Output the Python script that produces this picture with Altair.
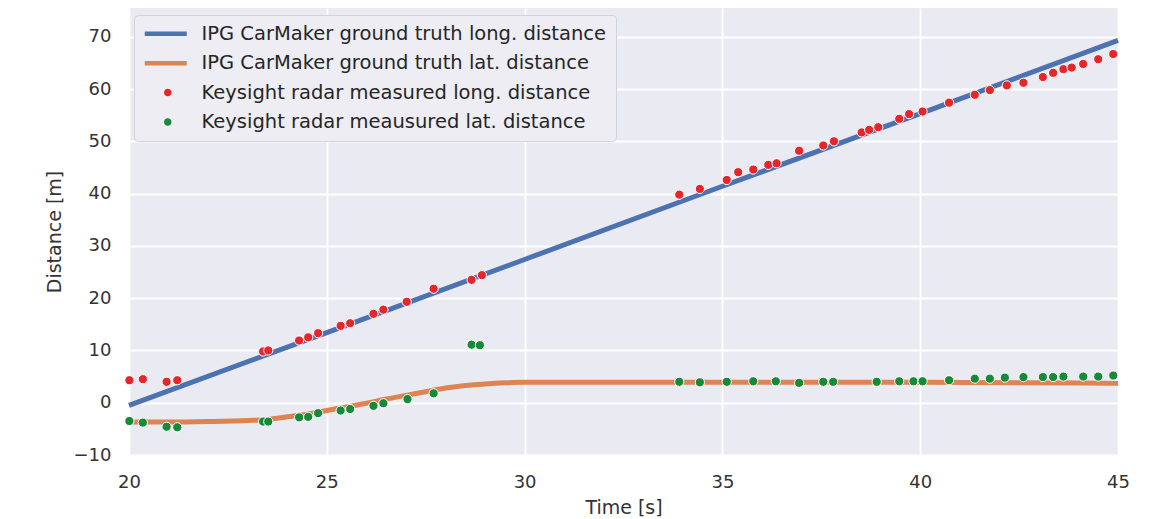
import altair as alt
import pandas as pd

# ---------------- data ----------------
series_names = [
    "IPG CarMaker ground truth long. distance",
    "IPG CarMaker ground truth lat. distance",
    "Keysight radar measured long. distance",
    "Keysight radar meausured lat. distance",
]
series_colors = ["#4C72B0", "#DD8452", "#E5262B", "#178A3A"]

# ground truth longitudinal distance
gt_long_time = [20.0, 25.0, 30.0, 35.0, 40.0, 45.0]
gt_long_dist = [-0.5, 13.4, 27.4, 41.4, 55.3, 69.3]

# ground truth lateral distance
gt_lat_time = [20.0, 21.0, 22.0, 23.0, 23.5, 24.0, 24.5, 25.0, 25.5, 26.0, 26.5,
               27.0, 27.5, 28.0, 28.5, 29.0, 29.5, 30.0, 31.0, 35.0, 40.0, 45.0]
gt_lat_dist = [-3.7, -3.7, -3.6, -3.4, -3.2, -2.7, -2.2, -1.5, -0.8, -0.1, 0.7,
               1.4, 2.1, 2.8, 3.3, 3.6, 3.8, 3.9, 3.9, 3.9, 3.9, 3.7]

# radar measured longitudinal distance
meas_long_time = [20.01, 20.35, 20.95, 21.22, 23.39, 23.52, 24.30, 24.53, 24.78,
                  25.35, 25.59, 26.18, 26.43, 27.02, 27.70, 28.66, 28.92,
                  33.91, 34.43, 35.11, 35.40, 35.78, 36.16, 36.37, 36.94, 37.55,
                  37.82, 38.52, 38.71, 38.94, 39.47, 39.72, 40.06, 40.73, 41.38,
                  41.76, 42.19, 42.61, 43.10, 43.36, 43.62, 43.83, 44.12, 44.50,
                  44.88]
meas_long_dist = [4.3, 4.5, 4.0, 4.3, 9.8, 10.0, 11.9, 12.5, 13.3,
                  14.7, 15.2, 17.0, 17.8, 19.3, 21.8, 23.5, 24.4,
                  39.8, 40.9, 42.6, 44.1, 44.6, 45.5, 45.8, 48.2, 49.2,
                  50.0, 51.7, 52.2, 52.7, 54.3, 55.2, 55.7, 57.4, 58.9,
                  59.8, 60.7, 61.2, 62.3, 63.1, 63.8, 64.1, 64.8, 65.7,
                  66.7]

# radar measured lateral distance
meas_lat_time = [20.01, 20.35, 20.95, 21.22, 23.39, 23.52, 24.30, 24.53, 24.78,
                 25.35, 25.59, 26.18, 26.43, 27.04, 27.70, 28.66, 28.87,
                 33.91, 34.43, 35.11, 35.78, 36.35, 36.94, 37.55, 37.80, 38.90,
                 39.47, 39.83, 40.06, 40.73, 41.38, 41.76, 42.14, 42.61, 43.10,
                 43.36, 43.62, 44.12, 44.50, 44.88]
meas_lat_dist = [-3.5, -3.8, -4.6, -4.7, -3.6, -3.6, -2.8, -2.7, -2.0,
                 -1.5, -1.2, -0.6, -0.1, 0.7, 1.8, 11.1, 11.0,
                 4.0, 3.9, 4.0, 4.1, 4.1, 3.8, 4.0, 4.0, 4.0,
                 4.1, 4.1, 4.1, 4.3, 4.6, 4.6, 4.8, 4.9, 4.9,
                 4.9, 5.0, 5.0, 5.0, 5.2]

x_ticks = [20, 25, 30, 35, 40, 45]
y_ticks = [-10, 0, 10, 20, 30, 40, 50, 60, 70]

# ---------------- tables ----------------
gt_long_df = pd.DataFrame({"t": gt_long_time, "d": gt_long_dist})
gt_lat_df = pd.DataFrame({"t": gt_lat_time, "d": gt_lat_dist})
meas_long_df = pd.DataFrame({"t": meas_long_time, "d": meas_long_dist,
                             "series": series_names[2]})
meas_lat_df = pd.DataFrame({"t": meas_lat_time, "d": meas_lat_dist,
                            "series": series_names[3]})
legend_df = pd.DataFrame({"series": series_names, "t": [20.0] * 4, "d": [0.0] * 4})

x_enc = alt.X("t:Q", title="Time [s]",
              scale=alt.Scale(domain=[20, 45], nice=False, zero=False),
              axis=alt.Axis(values=x_ticks, format="d", labelFlush=False))
y_enc = alt.Y("d:Q", title="Distance [m]",
              scale=alt.Scale(domain=[-10, 75.5], nice=False, zero=False),
              axis=alt.Axis(values=y_ticks, format="d", labelFlush=False))

color_scale = alt.Scale(domain=series_names, range=series_colors)

line_path = "M-1.6,-0.45L6.8,-0.45L6.8,0.45L-1.6,0.45Z"
dot_path = "M2.25,0A0.75,0.75 0 1,0 3.75,0A0.75,0.75 0 1,0 2.25,0Z"
shape_scale = alt.Scale(domain=series_names,
                        range=[line_path, line_path, dot_path, dot_path])

long_line = alt.Chart(gt_long_df).mark_line(
    color=series_colors[0], strokeWidth=5).encode(x=x_enc, y=y_enc)
lat_line = alt.Chart(gt_lat_df).mark_line(
    color=series_colors[1], strokeWidth=5, interpolate="monotone").encode(x=x_enc, y=y_enc)

long_pts = alt.Chart(meas_long_df).mark_circle(
    size=85, opacity=1, color=series_colors[2], stroke="white", strokeWidth=1
).encode(x=x_enc, y=y_enc)
lat_pts = alt.Chart(meas_lat_df).mark_circle(
    size=85, opacity=1, color=series_colors[3], stroke="white", strokeWidth=1
).encode(x=x_enc, y=y_enc)

# legend-only layer: no marks drawn, legend built from the explicit scale domain
legend_layer = alt.Chart(legend_df).transform_filter("false").mark_point(
    filled=True, opacity=1).encode(
    x=x_enc, y=y_enc,
    color=alt.Color("series:N", scale=color_scale, title=None,
                    legend=alt.Legend(
                        orient="none", legendX=5, legendY=7,
                        labelFontSize=19.5, labelFont="DejaVu Sans",
                        labelColor="#262626", labelLimit=700,
                        symbolSize=100, symbolStrokeWidth=0,
                        labelOffset=39, rowPadding=8.4, padding=9,
                        fillColor="#EDEDF3", strokeColor="#D2D2DA",
                        cornerRadius=4, symbolOpacity=1)),
    shape=alt.Shape("series:N", scale=shape_scale, title=None),
)

chart = alt.layer(long_line, lat_line, long_pts, lat_pts, legend_layer).properties(
    width=989, height=447,
    autosize=alt.AutoSizeParams(type="none"),
    padding={"left": 121, "top": 0, "right": 20, "bottom": 64},
    background="white",
).configure_view(
    fill="#EAEAF2", stroke=None,
).configure_axis(
    grid=True, gridColor="white", gridWidth=1.8,
    domain=False, ticks=False,
    labelFont="DejaVu Sans", labelFontSize=18, labelColor="#333333",
    titleFont="DejaVu Sans", titleFontSize=19, titleFontWeight="normal",
    titleColor="#333333",
).configure_axisX(
    labelPadding=18, titlePadding=7,
).configure_axisY(
    labelPadding=18, titlePadding=9,
)

chart.save("out.html", embed_options={"renderer": "svg", "actions": False})
